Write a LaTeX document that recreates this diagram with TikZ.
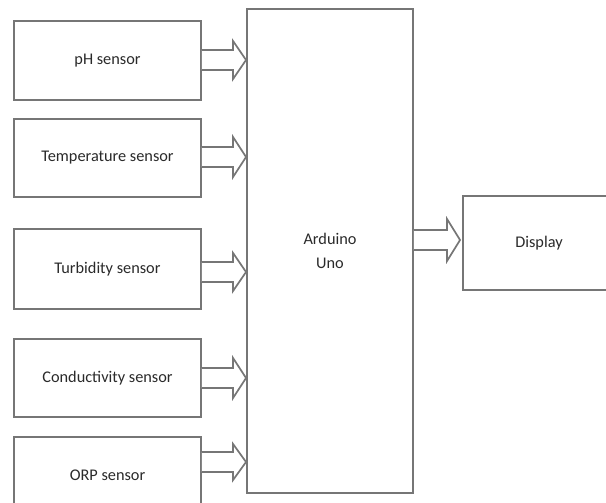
\documentclass[tikz,border=0pt]{standalone}
\usepackage{fontspec}
\setmainfont{Carlito}
\usetikzlibrary{calc}
\definecolor{linegray}{HTML}{767676}
\definecolor{textgray}{HTML}{2A2A2A}
\tikzset{
  box/.style={draw=linegray, line width=1.9pt, fill=white, rectangle, inner sep=0pt,
    font=\fontsize{16.3}{24}\selectfont, text=textgray, align=center},
  blockarrow/.style={draw=linegray, line width=1.7pt, line join=miter, fill=white},
}
\newcommand{\blockarr}[3]{% start, end, head half width
  \draw[blockarrow] ($(#1)+(0,-10)$) -- ($(#2)+(-13,-10)$) -- ($(#2)+(-13,-#3)$) -- (#2)
    -- ($(#2)+(-13,#3)$) -- ($(#2)+(-13,10)$) -- ($(#1)+(0,10)$);
}
\begin{document}
\begin{tikzpicture}[x=1pt,y=-1pt]
\useasboundingbox (0,0) rectangle (606,503);
\clip (0,0) rectangle (606,503);
\node[box, minimum width=187pt, minimum height=79pt] (ph) at (107.5,60.5) {pH sensor};
\node[box, minimum width=187pt, minimum height=78pt] (temp) at (107.5,158) {Temperature sensor};
\node[box, minimum width=187pt, minimum height=80pt] (turb) at (107.5,269) {Turbidity sensor};
\node[box, minimum width=187pt, minimum height=78pt] (cond) at (107.5,378) {Conductivity sensor};
\node[box, minimum width=187pt, minimum height=76pt] (orp) at (107.5,475) {ORP sensor};
\node[box, minimum width=166pt, minimum height=484pt] (ard) at (330,251) {Arduino\\Uno};
\node[box, minimum width=152pt, minimum height=94pt] (disp) at (539,243) {Display};

\coordinate (s1) at (ph.east |- 0,60);   \coordinate (e1) at (ard.west |- 0,60);
\coordinate (s2) at (temp.east |- 0,157); \coordinate (e2) at (ard.west |- 0,157);
\coordinate (s3) at (turb.east |- 0,272); \coordinate (e3) at (ard.west |- 0,272);
\coordinate (s4) at (cond.east |- 0,378); \coordinate (e4) at (ard.west |- 0,378);
\coordinate (s5) at (orp.east |- 0,462);  \coordinate (e5) at (ard.west |- 0,462);
\coordinate (s6) at (ard.east |- 0,240);  \coordinate (e6) at ($(disp.west |- 0,240)+(-2,0)$);

\blockarr{s1}{e1}{19}
\blockarr{s2}{e2}{20}
\blockarr{s3}{e3}{19}
\blockarr{s4}{e4}{20}
\blockarr{s5}{e5}{18}
\blockarr{s6}{e6}{21}
\end{tikzpicture}
\end{document}
